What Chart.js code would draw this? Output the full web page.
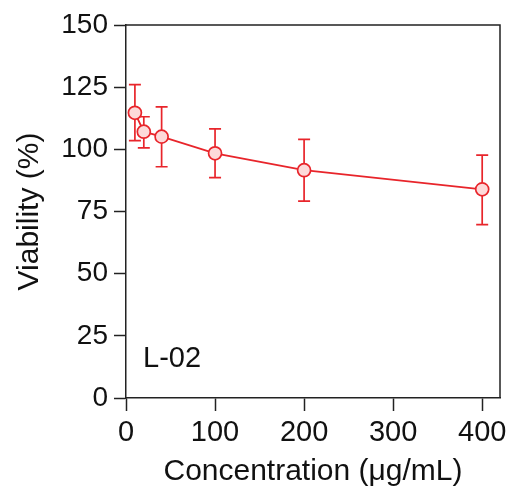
<!DOCTYPE html>
<html>
<head>
<meta charset="utf-8">
<script src="https://cdn.jsdelivr.net/npm/chart.js@4.4.1/dist/chart.umd.min.js"></script>
<style>
  html, body { margin: 0; padding: 0; background: #fff; }
  #wrap { width: 512px; height: 501px; }
</style>
</head>
<body>
<div id="wrap"><canvas id="viabilityChart" width="512" height="501"></canvas></div>
<script>
// concentrations (ug/mL) and viability (%)
const concentrations = [10, 20, 40, 100, 200, 400];
const viability = [114.7, 107.1, 105.1, 98.4, 91.6, 83.9];
const errUpper = [126.0, 113.1, 117.1, 108.2, 104.0, 97.7];
const errLower = [103.5, 100.6, 93.0, 88.6, 79.2, 69.7];
const yTicks = [0, 25, 50, 75, 100, 125, 150];
const xTicks = [0, 100, 200, 300, 400];
const panelLabel = 'L-02';

const red = '#e8252b';
const pink = '#fddada';
const axisColor = '#222';
const fontFamily = '"Liberation Sans", Arial, Helvetica, sans-serif';

const points = concentrations.map((c, i) => ({ x: c, y: viability[i] }));

// error bars, box border and the panel label
const extrasPlugin = {
    id: 'extras',
    beforeDatasetsDraw(chart) {
        const ctx = chart.ctx;
        const xs = chart.scales.x;
        const ys = chart.scales.y;
        ctx.save();
        ctx.strokeStyle = red;
        ctx.lineWidth = 1.7;
        concentrations.forEach((c, i) => {
            const px = xs.getPixelForValue(c);
            const top = ys.getPixelForValue(errUpper[i]);
            const bot = ys.getPixelForValue(errLower[i]);
            ctx.beginPath();
            ctx.moveTo(px, top); ctx.lineTo(px, bot);
            ctx.moveTo(px - 6, top); ctx.lineTo(px + 6, top);
            ctx.moveTo(px - 6, bot); ctx.lineTo(px + 6, bot);
            ctx.stroke();
        });
        ctx.restore();
    },
    afterDraw(chart) {
        const ctx = chart.ctx;
        const area = chart.chartArea;
        ctx.save();
        // top and right sides of the frame
        ctx.strokeStyle = axisColor;
        ctx.lineWidth = 1.5;
        ctx.beginPath();
        ctx.moveTo(area.left, area.top);
        ctx.lineTo(area.right, area.top);
        ctx.lineTo(area.right, area.bottom);
        ctx.stroke();
        // panel label
        ctx.fillStyle = '#111';
        ctx.font = '29px ' + fontFamily;
        ctx.textBaseline = 'alphabetic';
        ctx.fillText(panelLabel, area.left + 17, area.bottom - 31);
        ctx.restore();
    }
};

window.onload = function() {
    const ctx = document.getElementById('viabilityChart').getContext('2d');
    new Chart(ctx, {
        type: 'scatter',
        data: {
            datasets: [{
                data: points,
                showLine: true,
                borderColor: red,
                borderWidth: 1.8,
                backgroundColor: pink,
                pointBackgroundColor: pink,
                pointBorderColor: red,
                pointBorderWidth: 1.7,
                pointRadius: 6.5,
                tension: 0
            }]
        },
        options: {
            responsive: false,
            animation: false,
            layout: { padding: { left: 0, right: 12, top: 25, bottom: 0 } },
            plugins: {
                legend: { display: false },
                tooltip: { enabled: false }
            },
            scales: {
                x: {
                    type: 'linear',
                    min: 0,
                    max: 420,
                    afterBuildTicks: (scale) => { scale.ticks = xTicks.map(v => ({ value: v })); },
                    afterFit: (scale) => { scale.height = 103; },
                    grid: { drawOnChartArea: false, drawTicks: true, tickLength: 13, tickColor: axisColor, tickWidth: 1.5 },
                    border: { display: true, color: axisColor, width: 1.5 },
                    ticks: { color: '#111', padding: 5, maxRotation: 0, font: { family: fontFamily, size: 29 } },
                    title: {
                        display: true,
                        text: 'Concentration (\u03bcg/mL)',
                        color: '#111',
                        padding: { top: 0, bottom: 11 },
                        font: { family: fontFamily, size: 30 }
                    }
                },
                y: {
                    type: 'linear',
                    min: 0,
                    max: 150,
                    afterBuildTicks: (scale) => { scale.ticks = yTicks.map(v => ({ value: v })); },
                    afterFit: (scale) => { scale.width = 126; },
                    grid: { drawOnChartArea: false, drawTicks: true, tickLength: 12, tickColor: axisColor, tickWidth: 1.5 },
                    border: { display: true, color: axisColor, width: 1.5 },
                    ticks: { color: '#111', padding: 6, font: { family: fontFamily, size: 28 } },
                    title: {
                        display: true,
                        text: 'Viability (%)',
                        color: '#111',
                        padding: { top: 12, bottom: 0 },
                        font: { family: fontFamily, size: 30 }
                    }
                }
            }
        },
        plugins: [extrasPlugin]
    });
};
</script>
</body>
</html>
